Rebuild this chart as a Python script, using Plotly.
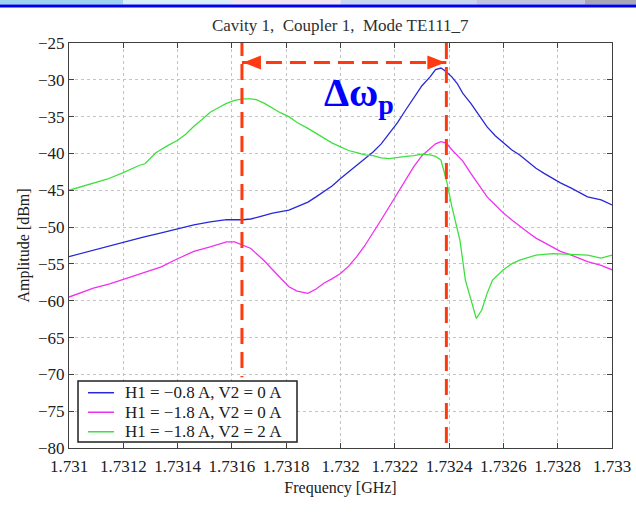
import plotly.graph_objects as go

# ── Data ──────────────────────────────────────────────────────────────────────
freq_green = [1.73100, 1.73104, 1.73109, 1.73114, 1.73120, 1.73123, 1.73126, 1.73128,
              1.73130, 1.73132, 1.73136, 1.73140, 1.73143, 1.73146, 1.73149, 1.73152,
              1.73155, 1.73158, 1.73161, 1.73164, 1.73167, 1.73169, 1.73172, 1.73175,
              1.73178, 1.73181, 1.73184, 1.73188, 1.73191, 1.73194, 1.73197, 1.73200,
              1.73203, 1.73206, 1.73209, 1.73212, 1.73215, 1.73218, 1.73221, 1.73224,
              1.73227, 1.73230, 1.73233, 1.73235, 1.73237, 1.73239, 1.73241, 1.73244,
              1.73246, 1.73249, 1.73250, 1.73252, 1.73254, 1.73256, 1.73260, 1.73263,
              1.73266, 1.73272, 1.73278, 1.73285, 1.73291, 1.73296, 1.73300]
amp_green = [-45.0, -44.6, -44.1, -43.5, -42.6, -42.1, -41.6, -41.4,
             -40.6, -39.9, -39.0, -38.2, -37.4, -36.3, -35.4, -34.4,
             -33.8, -33.2, -32.8, -32.6, -32.6, -32.7, -33.2, -33.9,
             -34.5, -35.0, -35.8, -36.6, -37.3, -37.9, -38.6, -39.1,
             -39.6, -39.9, -40.2, -40.3, -40.6, -40.7, -40.5, -40.4,
             -40.3, -40.1, -40.2, -40.4, -40.9, -43.6, -47.2, -51.8,
             -57.2, -61.3, -62.4, -61.3, -59.0, -57.2, -55.8, -55.0,
             -54.5, -53.8, -53.6, -53.7, -53.8, -54.2, -53.8]

freq_blue = [1.73100, 1.73104, 1.73109, 1.73115, 1.73121, 1.73127, 1.73134, 1.73140,
             1.73146, 1.73152, 1.73158, 1.73164, 1.73167, 1.73170, 1.73175, 1.73181,
             1.73184, 1.73188, 1.73191, 1.73194, 1.73197, 1.73200, 1.73203, 1.73206,
             1.73209, 1.73212, 1.73215, 1.73218, 1.73221, 1.73224, 1.73227, 1.73230,
             1.73233, 1.73235, 1.73237, 1.73239, 1.73241, 1.73243, 1.73245, 1.73248,
             1.73251, 1.73254, 1.73257, 1.73260, 1.73263, 1.73266, 1.73269, 1.73272,
             1.73275, 1.73278, 1.73281, 1.73285, 1.73288, 1.73291, 1.73296, 1.73300]
amp_blue = [-54.0, -53.6, -53.1, -52.6, -52.0, -51.4, -50.8, -50.2,
            -49.7, -49.3, -49.0, -49.0, -48.9, -48.6, -48.1, -47.7,
            -47.2, -46.6, -45.9, -45.2, -44.4, -43.4, -42.5, -41.6,
            -40.8, -39.8, -38.7, -37.3, -35.8, -34.1, -32.4, -30.8,
            -29.6, -28.6, -28.4, -28.9, -29.6, -30.5, -31.8, -33.2,
            -34.8, -36.4, -37.6, -38.6, -39.5, -40.2, -41.1, -42.0,
            -42.7, -43.4, -44.0, -44.7, -45.3, -45.9, -46.3, -47.0]

freq_magenta = [1.73100, 1.73104, 1.73109, 1.73115, 1.73121, 1.73127, 1.73134, 1.73140,
                1.73146, 1.73152, 1.73158, 1.73161, 1.73164, 1.73167, 1.73169, 1.73172,
                1.73175, 1.73178, 1.73181, 1.73184, 1.73188, 1.73191, 1.73194, 1.73197,
                1.73200, 1.73203, 1.73206, 1.73209, 1.73212, 1.73215, 1.73218, 1.73221,
                1.73224, 1.73227, 1.73230, 1.73233, 1.73235, 1.73237, 1.73239, 1.73241,
                1.73245, 1.73248, 1.73251, 1.73254, 1.73257, 1.73260, 1.73263, 1.73266,
                1.73269, 1.73272, 1.73275, 1.73278, 1.73281, 1.73285, 1.73291, 1.73296,
                1.73300]
amp_magenta = [-59.5, -59.0, -58.3, -57.7, -57.0, -56.3, -55.4, -54.3,
               -53.3, -52.7, -52.0, -52.0, -52.4, -52.9, -53.6, -54.6,
               -55.8, -57.0, -58.1, -58.7, -59.0, -58.4, -57.6, -57.0,
               -56.3, -55.3, -54.0, -52.5, -50.8, -49.0, -47.2, -45.4,
               -43.6, -41.8, -40.3, -39.3, -38.7, -38.4, -38.6, -39.5,
               -41.0, -42.7, -44.3, -45.9, -47.0, -48.1, -49.0, -49.9,
               -50.7, -51.5, -52.1, -52.7, -53.3, -53.8, -54.7, -55.2,
               -55.8]

series_names = ["H1 = \u22120.8 A, V2 = 0 A", "H1 = \u22121.8 A, V2 = 0 A",
                "H1 = \u22121.8 A, V2 = 2 A"]

x_ticks = [1.731, 1.7312, 1.7314, 1.7316, 1.7318, 1.732, 1.7322, 1.7324, 1.7326, 1.7328, 1.733]
x_ticktext = ["1.731", "1.7312", "1.7314", "1.7316", "1.7318", "1.732",
              "1.7322", "1.7324", "1.7326", "1.7328", "1.733"]
y_ticks = [-25, -30, -35, -40, -45, -50, -55, -60, -65, -70, -75, -80]
y_ticktext = ["\u221225", "\u221230", "\u221235", "\u221240", "\u221245", "\u221250",
              "\u221255", "\u221260", "\u221265", "\u221270", "\u221275", "\u221280"]

peak_left = 1.731637    # green resonance (marker line)
peak_right = 1.732390   # blue resonance (marker line)
arrow_level = -27.65

SERIF = "Liberation Serif, Times New Roman, serif"
RED = "#FF3A10"
COLORS = ["#2828D8", "#F030F0", "#3EE03E"]
DASH = "16px,8px"

fig = go.Figure()
for name, xs, ys, col in zip(series_names,
                             [freq_blue, freq_magenta, freq_green],
                             [amp_blue, amp_magenta, amp_green], COLORS):
    fig.add_trace(go.Scatter(x=xs, y=ys, mode="lines", name=name,
                             line=dict(color=col, width=1.3)))

# ── Δω_p markers ───────────────────────────────────────────────────────────────
fig.add_shape(type="line", x0=peak_left, x1=peak_left, y0=-24.6, y1=-70.4,
              line=dict(color=RED, width=3, dash=DASH))
fig.add_shape(type="line", x0=peak_right, x1=peak_right, y0=-25.0, y1=-80.0,
              line=dict(color=RED, width=3, dash=DASH))
fig.add_shape(type="line", x0=peak_left, x1=peak_right, y0=arrow_level, y1=arrow_level,
              line=dict(color=RED, width=3, dash=DASH))
# arrow heads
fig.add_shape(type="path", xsizemode="pixel", ysizemode="pixel",
              xanchor=peak_left, yanchor=arrow_level,
              path="M 1,0 L 19,7 L 19,-7 Z", fillcolor=RED, line=dict(width=0))
fig.add_shape(type="path", xsizemode="pixel", ysizemode="pixel",
              xanchor=peak_right, yanchor=arrow_level,
              path="M -1,0 L -19,7 L -19,-7 Z", fillcolor=RED, line=dict(width=0))

fig.add_annotation(x=1.732068, y=-32.0, xref="x", yref="y", showarrow=False,
                   text="<b>\u0394\u03c9<sub>p</sub></b>",
                   font=dict(family=SERIF, size=40, color="#0000FF"))

# ── Legend box (Matlab style, drawn by hand) ──────────────────────────────────
fig.add_shape(type="rect", xref="paper", yref="paper", x0=0.0166, x1=0.4199,
              y0=0.0148, y1=0.1654, fillcolor="white",
              line=dict(color="#202020", width=1.5), layer="above")
for i, (name, col) in enumerate(zip(series_names, COLORS)):
    ly = 0.1365 - i * 0.0482
    fig.add_shape(type="line", xref="paper", yref="paper", x0=0.035, x1=0.083,
                  y0=ly, y1=ly, line=dict(color=col, width=1.5), layer="above")
    fig.add_annotation(xref="paper", yref="paper", x=0.0994, y=ly, xanchor="left",
                       yanchor="middle", showarrow=False, text=name,
                       font=dict(family=SERIF, size=17, color="#202020"))

# ── Decorative header strip ───────────────────────────────────────────────────
strip = [(-0.13, 0.10, "#9FD4EE"), (0.10, 0.30, "#D8EEF8"), (0.30, 0.50, "#F2E6F0"),
         (0.50, 0.75, "#C8D8EE"), (0.75, 0.95, "#C0C4DC"), (0.95, 1.05, "#A8A8B4")]
for x0, x1, c in strip:
    fig.add_shape(type="rect", xref="paper", yref="paper", x0=x0, x1=x1,
                  y0=1.0950, y1=1.107, fillcolor=c, line=dict(width=0), layer="above")
fig.add_shape(type="rect", xref="paper", yref="paper", x0=-0.13, x1=1.05,
              y0=1.0875, y1=1.0950, fillcolor="#0000F0", line=dict(width=0), layer="above")

fig.update_layout(
    width=636, height=515,
    margin=dict(l=69, r=24, t=43, b=67, autoexpand=False),
    paper_bgcolor="white", plot_bgcolor="white",
    font=dict(family=SERIF, size=17, color="#202020"),
    title=dict(text="Cavity 1,  Coupler 1,  Mode TE111_7", x=0.535, xanchor="center",
               y=0.9515, yanchor="middle", font=dict(family=SERIF, size=17, color="#303030")),
    showlegend=False,
)
fig.update_xaxes(range=[1.731, 1.733], tickvals=x_ticks, ticktext=x_ticktext,
                 automargin=False, ticklabelstandoff=3,
                 showline=True, linecolor="#404040", linewidth=1, mirror="ticks",
                 ticks="inside", ticklen=5, tickcolor="#404040",
                 showgrid=True, gridcolor="#C4C4C4", griddash="dot", gridwidth=1,
                 zeroline=False, tickfont=dict(size=17),
                 title=dict(text="Frequency [GHz]", font=dict(size=16), standoff=6))
fig.update_yaxes(range=[-80, -25], tickvals=y_ticks, ticktext=y_ticktext,
                 automargin=False,
                 showline=True, linecolor="#404040", linewidth=1, mirror="ticks",
                 ticks="inside", ticklen=5, tickcolor="#404040",
                 showgrid=True, gridcolor="#C4C4C4", griddash="dot", gridwidth=1,
                 zeroline=False, tickfont=dict(size=17),
                 title=dict(text="Amplitude [dBm]", font=dict(size=16), standoff=4))

# page body has a default 8px margin; drop it so the figure sits at the corner
fig.write_html("out.html", config={"displayModeBar": False},
               post_script="document.body.style.margin='0';")
